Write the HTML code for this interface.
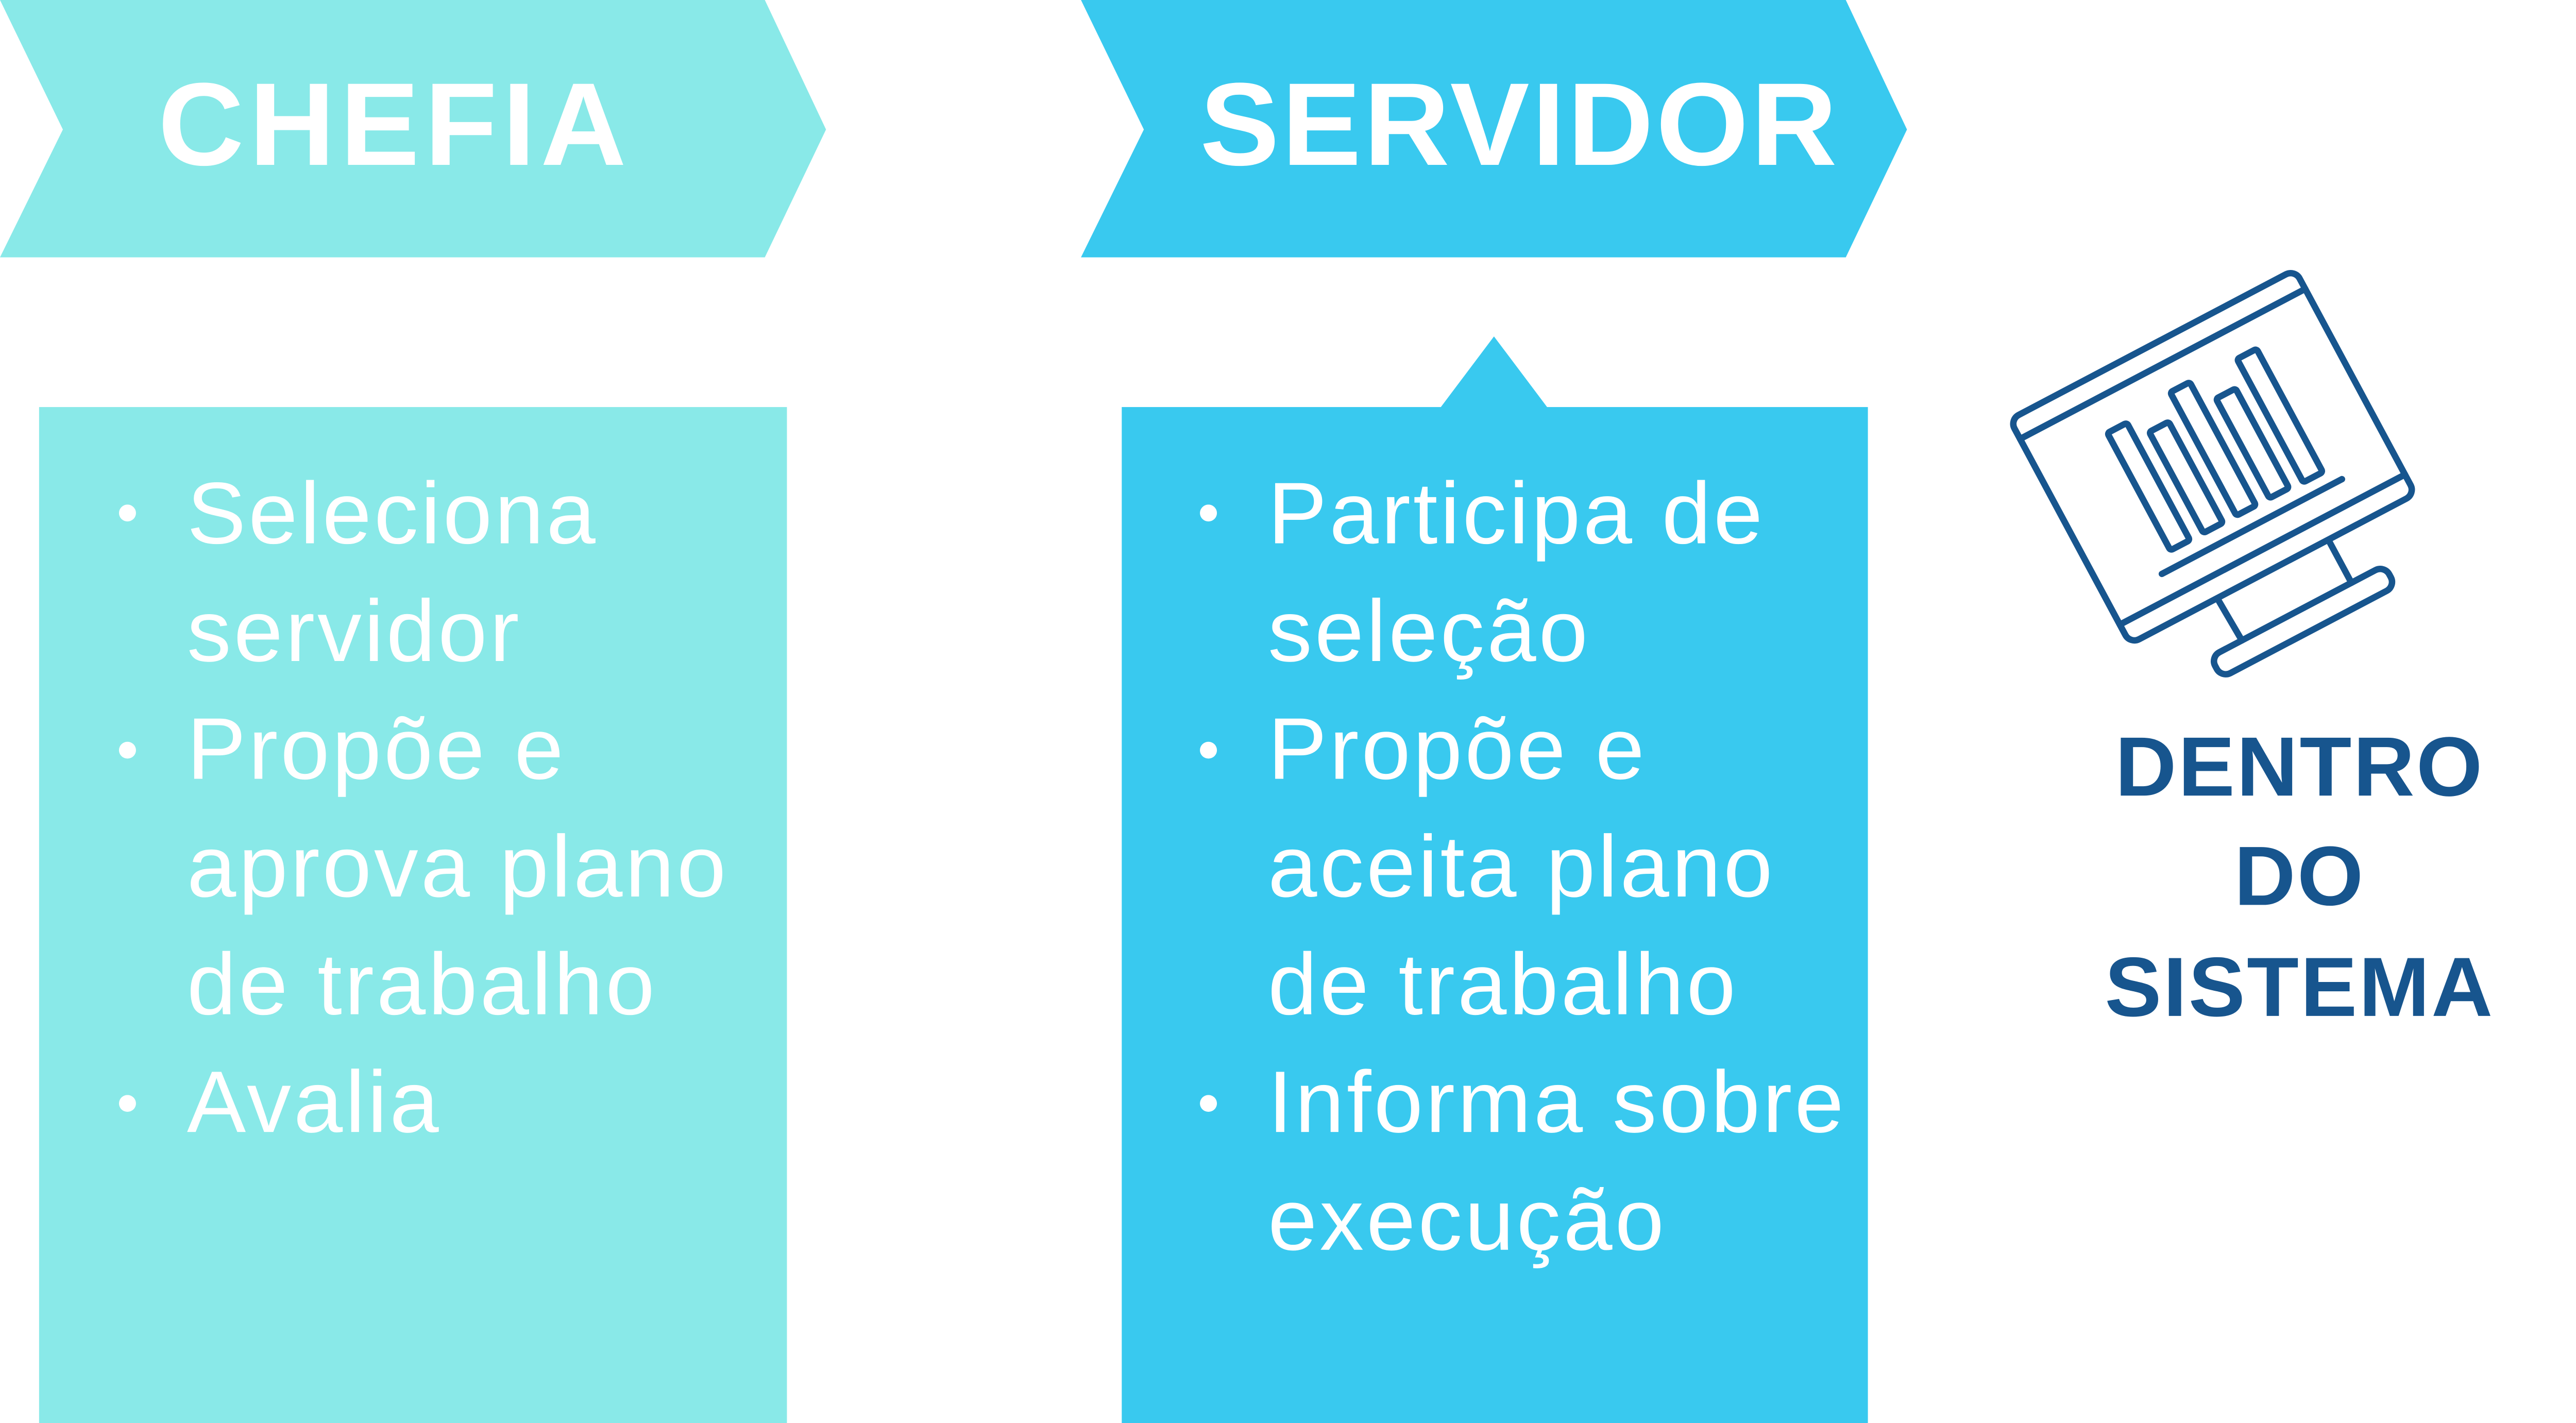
<!DOCTYPE html>
<html><head><meta charset="utf-8"><style>
html,body{margin:0;padding:0;background:#fff;}
svg{display:block;}
</style></head><body>
<svg width="5120" height="2762" viewBox="0 0 1552 846" preserveAspectRatio="none" xmlns="http://www.w3.org/2000/svg">
<rect width="1552" height="846" fill="#fff"/>
<polygon points="0,0 450,0 486,77 450,153 0,153 37,77" fill="#89E9E8"/>
<polygon points="636,0 1086,0 1122,77 1086,153 636,153 673,77" fill="#39C9EF"/>
<text x="93" y="98" font-family="Liberation Sans, sans-serif" font-weight="bold" font-size="70" fill="#fff" letter-spacing="3">CHEFIA</text>
<text x="706" y="98" font-family="Liberation Sans, sans-serif" font-weight="bold" font-size="70" fill="#fff" letter-spacing="1.5">SERVIDOR</text>
<rect x="23" y="242" width="440" height="604" fill="#89E9E8"/>
<rect x="660" y="242" width="439" height="604" fill="#39C9EF"/>
<polygon points="847,243 879,200 911,243" fill="#39C9EF"/>
<g font-family="Liberation Sans, sans-serif" font-size="52" fill="#fff" letter-spacing="1.5">
<circle cx="75" cy="305" r="5" fill="#fff"/>
<text x="110" y="323">Seleciona</text>
<text x="110" y="393">servidor</text>
<circle cx="75" cy="446" r="5" fill="#fff"/>
<text x="110" y="463">Propõe e</text>
<text x="110" y="533">aprova plano</text>
<text x="110" y="603">de trabalho</text>
<circle cx="75" cy="656" r="5" fill="#fff"/>
<text x="110" y="673">Avalia</text>
<circle cx="711" cy="305" r="5" fill="#fff"/>
<text x="746" y="323">Participa de</text>
<text x="746" y="393">seleção</text>
<circle cx="711" cy="446" r="5" fill="#fff"/>
<text x="746" y="463">Propõe e</text>
<text x="746" y="533">aceita plano</text>
<text x="746" y="603">de trabalho</text>
<circle cx="711" cy="656" r="5" fill="#fff"/>
<text x="746" y="673">Informa sobre</text>
<text x="746" y="743">execução</text>
</g>
<g font-family="Liberation Sans, sans-serif" font-weight="bold" font-size="50" fill="#17558E" text-anchor="middle" letter-spacing="1">
<text x="1353" y="473">DENTRO</text>
<text x="1353" y="538">DO</text>
<text x="1353" y="604">SISTEMA</text>
</g>
<g transform="translate(1302,272) rotate(-28)" fill="none" stroke="#17558E" stroke-width="3.8" stroke-linejoin="round" stroke-linecap="round">
<rect x="-95" y="-76" width="190" height="151" rx="6"/>
<line x1="-95" y1="-63" x2="95" y2="-63"/>
<line x1="-95" y1="62" x2="95" y2="62"/>
<rect x="-48" y="-42" width="13" height="79" rx="1.5"/>
<rect x="-26" y="-31" width="13" height="68" rx="1.5"/>
<rect x="-4" y="-46" width="13" height="83" rx="1.5"/>
<rect x="18" y="-30" width="13" height="67" rx="1.5"/>
<rect x="40" y="-45" width="13" height="83" rx="1.5"/>
<line x1="-59" y1="47" x2="61" y2="47"/>
<path d="M-37,76 L-36,104 M37,76 L37,104"/>
<rect x="-57" y="104" width="116" height="14" rx="6"/>
</g>
</svg>
</body></html>
